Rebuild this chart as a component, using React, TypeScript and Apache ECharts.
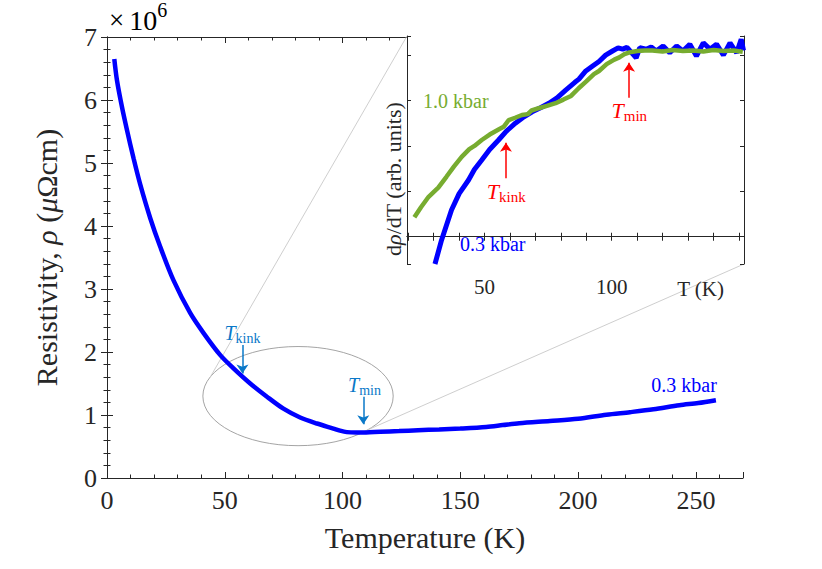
import React, { useEffect, useRef } from 'react';
import * as echarts from 'echarts';

// ---------- Main panel data: resistivity (×10^6 μΩcm) vs temperature (K), 0.3 kbar ----------
const mainT = [3.1, 4.2, 6.4, 8.5, 11.3, 14.1, 18.4, 22.6, 28.2, 35.3, 41, 48.1, 53.7, 60.8, 67.9, 74.9, 82, 89.1, 96.1, 98.9, 101.8, 106, 110, 116, 124, 132, 141, 150, 161, 168, 175, 188, 200, 212, 222, 232, 243, 251, 258.5];
const mainRho = [6.65, 6.32, 5.88, 5.52, 5.07, 4.66, 4.12, 3.67, 3.14, 2.62, 2.3, 1.95, 1.74, 1.5, 1.29, 1.1, 0.96, 0.865, 0.785, 0.752, 0.728, 0.722, 0.724, 0.734, 0.745, 0.758, 0.77, 0.785, 0.81, 0.84, 0.87, 0.905, 0.94, 1.005, 1.045, 1.09, 1.155, 1.19, 1.235];

// ---------- Inset data: dρ/dT (arb. units) ----------
const insetBlueT = [30.5, 33.1, 37, 40, 43.7, 46, 48.9, 52, 55.5, 58.5, 62.1, 65, 68.7, 72, 75.3, 78.5, 81.9, 85.5, 87.1, 89.8, 92.5, 95, 97.6, 100.3, 102.5, 104.3, 106, 108.3, 109.6, 111, 113.6, 115.5, 117.5, 120.2, 122.8, 125.5, 128, 130.7, 133.3, 136, 138.6, 141.2, 143.9, 146.5, 149.1, 150.9, 151.8];
const insetBlueV = [-0.6, -0.07, 0.59, 0.95, 1.25, 1.48, 1.69, 1.92, 2.13, 2.32, 2.5, 2.62, 2.75, 2.84, 2.94, 3.06, 3.23, 3.4, 3.47, 3.65, 3.76, 3.86, 4.0, 4.09, 4.16, 4.13, 4.17, 4.02, 3.94, 4.16, 4.13, 4.18, 4.09, 4.2, 4.05, 4.2, 4.09, 4.24, 3.98, 4.27, 4.13, 4.24, 4.0, 4.27, 4.05, 4.35, 4.1];
const insetGreenT = [22.4, 25, 28, 31.8, 35, 38, 41, 44, 46, 48.9, 52, 55.5, 57.5, 59.5, 62, 64.7, 67, 68.5, 71.3, 74.5, 77.9, 81, 84, 87, 90, 93, 95, 98, 101, 103, 105, 107, 110, 113, 116, 120, 124, 128, 132, 136, 140, 144, 148, 151.5];
const insetGreenV = [0.43, 0.65, 0.88, 1.08, 1.32, 1.55, 1.76, 1.93, 2.0, 2.13, 2.25, 2.36, 2.42, 2.57, 2.62, 2.68, 2.7, 2.78, 2.83, 2.88, 2.94, 3.02, 3.1, 3.27, 3.42, 3.58, 3.65, 3.8, 3.9, 3.95, 4.02, 4.06, 4.09, 4.1, 4.1, 4.08, 4.11, 4.09, 4.1, 4.08, 4.11, 4.09, 4.1, 4.07];

// ---------- Axis settings ----------
const mainXRange = [0, 270];
const mainYRange = [0, 7];
const insetXRange = [19.5, 152];
const insetYRange = [-0.6, 4.42];
const mainXLabels = [0, 50, 100, 150, 200, 250];
const insetXLabels = [50, 100];

// ---------- Annotations (data coordinates) ----------
const mainArrows = [
  { name: 'kink', x: 57.5, from: 2.11, to: 1.66, lx: 57.5, ly: 2.3 },
  { name: 'min', x: 108.8, from: 1.29, to: 0.855, lx: 109.3, ly: 1.47 },
];
const insetArrows = [
  { name: 'kink', x: 58.4, from: 1.29, to: 2.07, lx: 58.5, ly: 1.0 },
  { name: 'min', x: 106.8, from: 3.06, to: 3.83, lx: 106.9, ly: 2.79 },
];
const ellipseCenter = [81.1, 1.3];
const ellipseRadius = [40.4, 0.787];
const connectorStarts = [[43.8, 1.6], [107.4, 0.71]];

const SERIF = "'Liberation Serif', 'Times New Roman', Times, serif";
const AX = '#262626';
const BLUE = '#0000ff';
const GREEN = '#77ac30';
const RED = '#ff0000';
const ANN = '#0a78c8';

function subRich(color: string, tSize: number, sSize: number, pad: number) {
  return {
    t: { fontFamily: SERIF, fontStyle: 'italic', fontSize: tSize, color, lineHeight: tSize, verticalAlign: 'top' },
    s: { fontFamily: SERIF, fontSize: sSize, color, lineHeight: sSize, verticalAlign: 'top', padding: [pad, 0, 0, 0] },
  };
}

export default function App() {
  const ref = useRef<HTMLDivElement>(null);
  useEffect(() => {
    if (!ref.current) return;
    const chart = echarts.init(ref.current, null, { renderer: 'svg' });

    const mainGrid = { left: 107, top: 37, width: 636, height: 441, show: false };
    const insetGrid = { left: 407, top: 36, width: 337, height: 228, show: true, backgroundColor: '#ffffff', borderWidth: 0, z: 3 };

    const lineAx = { show: true, lineStyle: { color: AX, width: 1 } };
    const noLabel = { show: false };

    const xAxes = [
      {
        gridIndex: 0, type: 'value', position: 'bottom', min: mainXRange[0], max: mainXRange[1], interval: 50,
        axisLine: lineAx, axisTick: { inside: true, length: 6, lineStyle: { color: AX } }, splitLine: { show: false },
        axisLabel: { fontFamily: SERIF, fontSize: 26, color: AX, margin: 9, formatter: (v: number) => (mainXLabels.includes(v) ? String(v) : '') },
        name: 'Temperature (K)', nameLocation: 'middle', nameGap: 44,
        nameTextStyle: { fontFamily: SERIF, fontSize: 30, color: AX },
      },
      {
        gridIndex: 0, type: 'value', position: 'bottom', min: mainXRange[0], max: mainXRange[1], interval: 10,
        axisLine: { show: false }, axisTick: { inside: true, length: 3.5, lineStyle: { color: AX } }, splitLine: { show: false }, axisLabel: noLabel,
      },
      {
        gridIndex: 0, type: 'value', position: 'top', min: mainXRange[0], max: mainXRange[1], interval: 50,
        axisLine: lineAx, axisTick: { inside: true, length: 6, lineStyle: { color: AX } }, splitLine: { show: false }, axisLabel: noLabel,
      },
      {
        gridIndex: 0, type: 'value', position: 'top', min: mainXRange[0], max: mainXRange[1], interval: 10,
        axisLine: { show: false }, axisTick: { inside: true, length: 3.5, lineStyle: { color: AX } }, splitLine: { show: false }, axisLabel: noLabel,
      },
      {
        gridIndex: 1, type: 'value', position: 'bottom', min: insetXRange[0], max: insetXRange[1], minInterval: 10, maxInterval: 10, z: 4,
        axisLine: lineAx, axisTick: { inside: true, length: 4, lineStyle: { color: AX } }, splitLine: { show: false },
        axisLabel: { fontFamily: SERIF, fontSize: 21, color: AX, margin: 12, showMinLabel: false, showMaxLabel: false, formatter: (v: number) => (insetXLabels.includes(v) ? String(v) : '') },
      },
      {
        gridIndex: 1, type: 'value', position: 'top', min: insetXRange[0], max: insetXRange[1], minInterval: 10, maxInterval: 10, z: 4,
        axisLine: lineAx, axisTick: { inside: true, length: 4, lineStyle: { color: AX } }, splitLine: { show: false }, axisLabel: noLabel,
      },
    ];

    const yAxes = [
      {
        gridIndex: 0, type: 'value', position: 'left', min: mainYRange[0], max: mainYRange[1], interval: 1,
        axisLine: lineAx, axisTick: { inside: true, length: 6, lineStyle: { color: AX } },
        minorTick: { show: true, splitNumber: 5, length: 3.5, lineStyle: { color: AX } },
        splitLine: { show: false }, minorSplitLine: { show: false },
        axisLabel: { fontFamily: SERIF, fontSize: 26, color: AX, margin: 10 },
        name: '{n|Resistivity, }{i|ρ}{n| (}{i|μ}{n|Ωcm)}', nameLocation: 'middle', nameGap: 46, nameRotate: 90,
        nameTextStyle: {
          fontFamily: SERIF, fontSize: 30, color: AX,
          rich: { n: { fontFamily: SERIF, fontSize: 30, color: AX }, i: { fontFamily: SERIF, fontSize: 30, color: AX, fontStyle: 'italic' } },
        },
      },
      {
        gridIndex: 0, type: 'value', position: 'right', min: mainYRange[0], max: mainYRange[1], interval: 1,
        axisLine: lineAx, axisTick: { inside: true, length: 6, lineStyle: { color: AX } },
        minorTick: { show: true, splitNumber: 5, length: 3.5, lineStyle: { color: AX } },
        splitLine: { show: false }, axisLabel: noLabel,
      },
      {
        gridIndex: 1, type: 'value', position: 'left', min: insetYRange[0], max: insetYRange[1], minInterval: 1, maxInterval: 1, z: 4,
        axisLine: lineAx, axisTick: { inside: true, length: 4, lineStyle: { color: AX } }, splitLine: { show: false }, axisLabel: noLabel,
        name: '{n|d}{i|ρ}{n|/dT (arb. units)}', nameLocation: 'middle', nameGap: 3, nameRotate: 90,
        nameTextStyle: {
          fontFamily: SERIF, fontSize: 22, color: AX, padding: [0, 58, 0, 0],
          rich: { n: { fontFamily: SERIF, fontSize: 22, color: AX }, i: { fontFamily: SERIF, fontSize: 22, color: AX, fontStyle: 'italic' } },
        },
      },
      {
        gridIndex: 1, type: 'value', position: 'right', min: insetYRange[0], max: insetYRange[1], minInterval: 1, maxInterval: 1, z: 4,
        axisLine: lineAx, axisTick: { inside: true, length: 4, lineStyle: { color: AX } }, splitLine: { show: false }, axisLabel: noLabel,
      },
    ];

    const labelPoint = (coord: number[], formatter: string, rich: any, color: string, fontSize = 20) => ({
      coord,
      symbol: 'circle',
      symbolSize: 1,
      itemStyle: { color: 'rgba(0,0,0,0)' },
      label: { show: true, position: 'inside', formatter, rich, color, fontFamily: SERIF, fontSize },
    });

    const arrowLines = (arr: typeof mainArrows) =>
      arr.map((a) => [{ coord: [a.x, a.from] }, { coord: [a.x, a.to] }]);

    const arrowMark = (color: string, arr: typeof mainArrows) => ({
      silent: true,
      symbol: ['none', 'arrow'],
      symbolSize: 9,
      itemStyle: { color },
      lineStyle: { color, width: 1.5, type: 'solid' },
      label: { show: false },
      emphasis: { disabled: true },
      data: arrowLines(arr),
    });

    const option: any = {
      animation: false,
      backgroundColor: '#ffffff',
      grid: [mainGrid, insetGrid],
      xAxis: xAxes,
      yAxis: yAxes,
      series: [
        {
          type: 'line', xAxisIndex: 0, yAxisIndex: 0, z: 2,
          data: mainT.map((t, i) => [t, mainRho[i]]),
          showSymbol: false, symbol: 'none', smooth: 0.3,
          lineStyle: { color: BLUE, width: 4.5 },
          silent: true,
          markLine: arrowMark(ANN, mainArrows),
          markPoint: {
            silent: true,
            data: [
              ...mainArrows.map((a) => labelPoint([a.lx, a.ly], `{t|T}{s|${a.name}}`, subRich(ANN, 20, 14, 8), ANN)),
              labelPoint([245, 1.47], '0.3 kbar', undefined, BLUE, 20),
            ],
          },
        },
        {
          type: 'line', xAxisIndex: 4, yAxisIndex: 2, z: 5,
          data: insetBlueT.map((t, i) => [t, insetBlueV[i]]),
          showSymbol: false, symbol: 'none',
          lineStyle: { color: BLUE, width: 5 },
          silent: true,
          markPoint: {
            silent: true,
            data: [labelPoint([53.2, -0.16], '0.3 kbar', undefined, BLUE, 20)],
          },
        },
        {
          type: 'line', xAxisIndex: 4, yAxisIndex: 2, z: 6,
          data: insetGreenT.map((t, i) => [t, insetGreenV[i]]),
          showSymbol: false, symbol: 'none',
          lineStyle: { color: GREEN, width: 4.5 },
          silent: true,
          markLine: arrowMark(RED, insetArrows),
          markPoint: {
            silent: true,
            data: [
              ...insetArrows.map((a) => labelPoint([a.lx, a.ly], `{t|T}{s|${a.name}}`, subRich(RED, 22, 15, 9), RED)),
              labelPoint([38.7, 2.98], '1.0 kbar', undefined, GREEN, 20),
            ],
          },
        },
      ],
    };

    chart.setOption(option);

    // Annotation ellipse + connector lines, placed from data coordinates
    const mainFinder = { xAxisIndex: 0, yAxisIndex: 0 };
    const insetFinder = { xAxisIndex: 4, yAxisIndex: 2 };
    const c = chart.convertToPixel(mainFinder, ellipseCenter) as number[];
    const e = chart.convertToPixel(mainFinder, [ellipseCenter[0] + ellipseRadius[0], ellipseCenter[1] + ellipseRadius[1]]) as number[];
    const s1 = chart.convertToPixel(mainFinder, connectorStarts[0]) as number[];
    const s2 = chart.convertToPixel(mainFinder, connectorStarts[1]) as number[];
    const tl = chart.convertToPixel(insetFinder, [insetXRange[0], insetYRange[1]]) as number[];
    const br = chart.convertToPixel(insetFinder, [insetXRange[1], insetYRange[0]]) as number[];

    chart.setOption({
      graphic: [
        {
          type: 'ellipse', z: 1, silent: true,
          shape: { cx: c[0], cy: c[1], rx: Math.abs(e[0] - c[0]), ry: Math.abs(c[1] - e[1]) },
          style: { fill: 'none', stroke: '#9a9a9a', lineWidth: 0.9 },
        },
        {
          type: 'line', z: 1, silent: true,
          shape: { x1: s1[0], y1: s1[1], x2: tl[0], y2: tl[1] },
          style: { stroke: '#c8c8c8', lineWidth: 0.9 },
        },
        {
          type: 'line', z: 1, silent: true,
          shape: { x1: s2[0], y1: s2[1], x2: br[0], y2: br[1] },
          style: { stroke: '#c8c8c8', lineWidth: 0.9 },
        },
        {
          type: 'text', z: 10, silent: true,
          x: br[0] - 20, y: br[1] + 25,
          style: { text: 'T (K)', fontFamily: SERIF, fontSize: 21, fill: AX, align: 'right', verticalAlign: 'middle' },
        },
        {
          type: 'text', left: 109, top: 0, z: 10, silent: true,
          style: {
            text: '{x|×}{a|10}{b|6}',
            rich: {
              x: { fontFamily: SERIF, fontSize: 27, lineHeight: 27, color: AX, verticalAlign: 'top', padding: [6, 5, 0, 0] },
              a: { fontFamily: SERIF, fontSize: 28, lineHeight: 27, color: AX, verticalAlign: 'top', padding: [6, 0, 0, 0] },
              b: { fontFamily: SERIF, fontSize: 20, lineHeight: 20, color: AX, verticalAlign: 'top' },
            },
          },
        },
      ],
    });

    return () => chart.dispose();
  }, []);

  return <div ref={ref} style={{ position: 'fixed', left: 0, top: 0, width: 822, height: 569, background: '#fff' }} />;
}
